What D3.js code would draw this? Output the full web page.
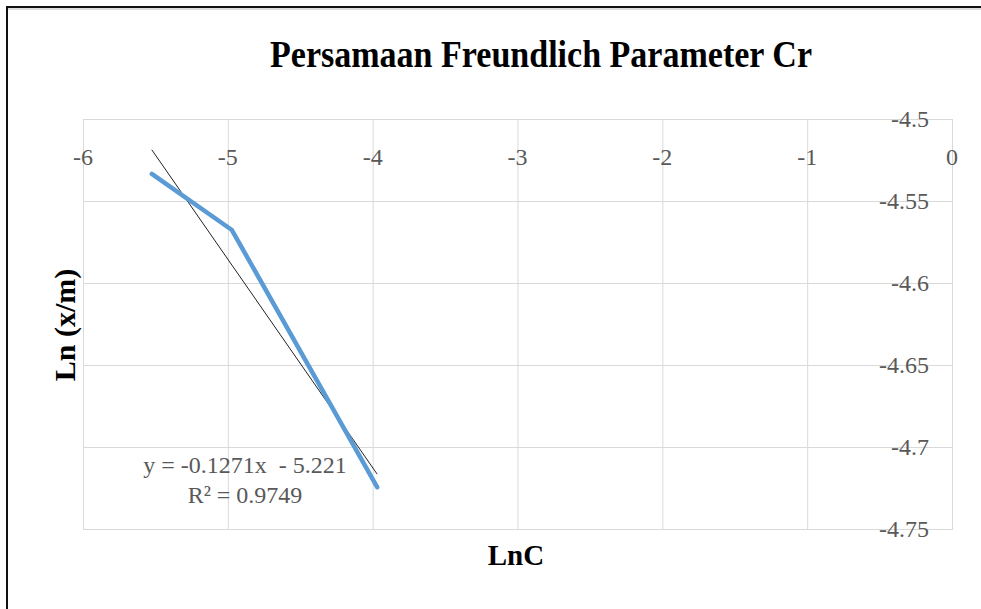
<!DOCTYPE html>
<html>
<head>
<meta charset="utf-8">
<script src="https://cdn.jsdelivr.net/npm/d3@7"></script>
<style>
  html, body { margin: 0; padding: 0; background: #fff; }
  svg { display: block; }
</style>
</head>
<body>
<svg id="chart" width="981" height="609"></svg>
<script>
// ---- data ----
const lnC = [-5.525, -4.972, -3.969];
const lnXM = [-4.5335, -4.5677, -4.7245];
const xTicks = [-6, -5, -4, -3, -2, -1, 0];
const yTicks = [-4.5, -4.55, -4.6, -4.65, -4.7, -4.75];
const trendSlope = -0.1271;
const trendIntercept = -5.221;
const trendLabel = ["y = -0.1271x  - 5.221", "R\u00b2 = 0.9749"];
const title = "Persamaan Freundlich Parameter Cr";
const xTitle = "LnC";
const yTitle = "Ln (x/m)";

const svg = d3.select("#chart");
const W = 981, H = 609;
const serif = "'Liberation Serif', 'Times New Roman', serif";

// frame (top + left only, cropped image)
svg.append("line").attr("x1", 6).attr("x2", W).attr("y1", 9).attr("y2", 9)
  .attr("stroke", "#ddd").attr("stroke-width", 2);
svg.append("line").attr("x1", 6).attr("x2", W).attr("y1", 7).attr("y2", 7)
  .attr("stroke", "#111").attr("stroke-width", 2);
svg.append("line").attr("x1", 7).attr("x2", 7).attr("y1", 6).attr("y2", H)
  .attr("stroke", "#111").attr("stroke-width", 2);

const x = d3.scaleLinear().domain([-6, 0]).range([83, 952]);
const y = d3.scaleLinear().domain([-4.5, -4.75]).range([119, 529]);

const g = svg.append("g");

// gridlines
g.selectAll("line.vg").data(xTicks).join("line").attr("class", "vg")
  .attr("x1", d => x(d) + 0.5).attr("x2", d => x(d) + 0.5)
  .attr("y1", y(-4.5)).attr("y2", y(-4.75))
  .attr("stroke", "#d9d9d9").attr("stroke-width", 1);
g.selectAll("line.hg").data(yTicks).join("line").attr("class", "hg")
  .attr("x1", x(-6)).attr("x2", x(0) + 1)
  .attr("y1", d => y(d) + 0.5).attr("y2", d => y(d) + 0.5)
  .attr("stroke", "#d9d9d9").attr("stroke-width", 1);

// x tick labels
g.selectAll("text.xt").data(xTicks).join("text").attr("class", "xt")
  .attr("x", d => x(d)).attr("y", 165)
  .attr("text-anchor", "middle")
  .attr("font-family", serif).attr("font-size", 24).attr("fill", "#595959")
  .text(d => String(d));

// y tick labels
g.selectAll("text.yt").data(yTicks).join("text").attr("class", "yt")
  .attr("x", 929).attr("y", d => y(d) + 8)
  .attr("text-anchor", "end")
  .attr("font-family", serif).attr("font-size", 24).attr("fill", "#595959")
  .text(d => String(d));

// trendline
const tx = d3.extent(lnC);
g.append("line")
  .attr("x1", x(tx[0])).attr("y1", y(trendSlope * tx[0] + trendIntercept))
  .attr("x2", x(tx[1])).attr("y2", y(trendSlope * tx[1] + trendIntercept))
  .attr("stroke", "#222").attr("stroke-width", 1);

// data line
const pts = lnC.map((v, i) => [v, lnXM[i]]);
g.append("path").datum(pts)
  .attr("d", d3.line().x(d => x(d[0])).y(d => y(d[1])))
  .attr("fill", "none").attr("stroke", "#5b9bd5").attr("stroke-width", 4.5)
  .attr("stroke-linejoin", "round").attr("stroke-linecap", "round");

// trend label
g.append("text").attr("x", 245).attr("y", 473).attr("text-anchor", "middle")
  .attr("font-family", serif).attr("font-size", 24).attr("fill", "#595959")
  .attr("xml:space", "preserve").text(trendLabel[0]);
g.append("text").attr("x", 245).attr("y", 503).attr("text-anchor", "middle")
  .attr("font-family", serif).attr("font-size", 24).attr("fill", "#595959")
  .text(trendLabel[1]);

// titles
svg.append("text").attr("x", 541).attr("y", 67).attr("text-anchor", "middle")
  .attr("font-family", serif).attr("font-size", 37).attr("font-weight", "bold")
  .attr("fill", "#000").attr("textLength", 542).attr("lengthAdjust", "spacingAndGlyphs")
  .text(title);
svg.append("text").attr("x", 516).attr("y", 565).attr("text-anchor", "middle")
  .attr("font-family", serif).attr("font-size", 29).attr("font-weight", "bold")
  .attr("fill", "#000").text(xTitle);
svg.append("text")
  .attr("transform", "translate(75,325) rotate(-90)")
  .attr("text-anchor", "middle")
  .attr("font-family", serif).attr("font-size", 30).attr("font-weight", "bold")
  .attr("fill", "#000").text(yTitle);
</script>
</body>
</html>
